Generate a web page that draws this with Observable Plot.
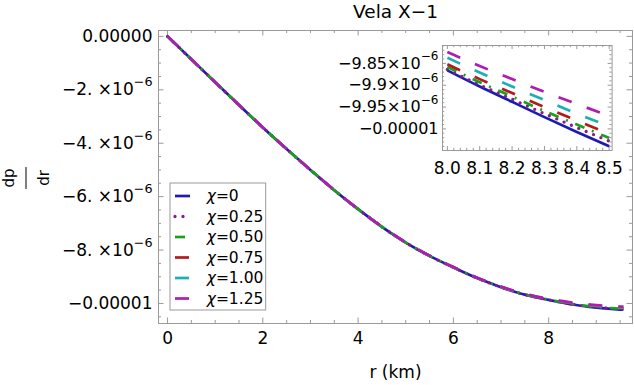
<!DOCTYPE html>
<html><head><meta charset="utf-8">
<script src="https://cdn.jsdelivr.net/npm/d3@7"></script>
<script src="https://cdn.jsdelivr.net/npm/@observablehq/plot@0.6"></script>
<style>
body{margin:0;background:#fff;}
#wrap{position:relative;width:634px;height:385px;font-family:"DejaVu Sans",sans-serif;}
#wrap svg{position:absolute;left:0;top:0;overflow:visible;}
</style></head><body><div id="wrap"></div>
<script>
// ---------------- data (dp/dr in units of 1e-6) ----------------
const title = "Vela X\u22121";
const xLabel = "r (km)";
const chiLabels = ["0", "0.25", "0.50", "0.75", "1.00", "1.25"];
const rKm = [0,0.5,1,1.5,2,2.5,3,3.5,4,4.5,5,5.5,6,6.5,7,7.5,7.75,8,8.1,8.2,8.3,8.4,8.5,8.75,9,9.25,9.5,9.57];
// chi = 0 curve
const dpdrChi0 = [0,-0.86,-1.72,-2.57,-3.41,-4.22,-5.00,-5.76,-6.47,-7.13,-7.72,-8.22,-8.65,-9.05,-9.39,-9.67,-9.775,-9.866,-9.903,-9.938,-9.973,-10.007,-10.040,-10.105,-10.155,-10.195,-10.228,-10.236];
// lift of each curve above the chi = 0 curve
const liftChi025 = [0,0,0,0,0,0,0,0,0.001,0.001,0.001,0.001,0.001,0.001,0.001,0.002,0.002,0.002,0.004,0.006,0.008,0.010,0.012,0.015,0.018,0.020,0.022,0.023];
const liftChi050 = [0,0,0,0,0,0,0.001,0.001,0.001,0.002,0.002,0.002,0.003,0.004,0.005,0.006,0.007,0.008,0.010,0.012,0.014,0.017,0.019,0.023,0.027,0.030,0.033,0.034];
const liftChi075 = [0,0,0,0,0,0.001,0.001,0.002,0.002,0.003,0.003,0.004,0.005,0.006,0.008,0.010,0.012,0.014,0.017,0.020,0.023,0.026,0.029,0.035,0.040,0.045,0.050,0.051];
const liftChi100 = [0,0,0,0,0.001,0.001,0.002,0.003,0.004,0.005,0.006,0.007,0.009,0.012,0.016,0.021,0.025,0.029,0.032,0.035,0.039,0.042,0.046,0.054,0.062,0.069,0.075,0.077];
const liftChi125 = [0,0,0,0,0.001,0.002,0.003,0.004,0.005,0.006,0.008,0.010,0.013,0.017,0.022,0.030,0.036,0.042,0.047,0.052,0.058,0.064,0.070,0.083,0.095,0.105,0.115,0.118];
const lifts = [rKm.map(() => 0), liftChi025, liftChi050, liftChi075, liftChi100, liftChi125];

const xTicksMain = [0, 2, 4, 6, 8];
const yTicksMain = [0, -2, -4, -6, -8, -10];
const xTicksInset = [8.0, 8.1, 8.2, 8.3, 8.4, 8.5];
const yTicksInset = [-9.85, -9.9, -9.95, -10.0];

// ---------------- styles ----------------
const colors = ["#1c1cb0", "#8a1a8a", "#1ca01c", "#b01c1c", "#1cb0b0", "#b01cb0"];
const dashes = [null, "0,8", "10,8,2,8", "14,16", "14,16", "14,16"];
const caps = ["butt", "round", "butt", "butt", "butt", "butt"];
const widths = [2.7, 3.3, 2.7, 2.7, 2.7, 2.7];
const FRAME = "#9a9a9a";

const rows = [];
chiLabels.forEach((chi, s) => rKm.forEach((r, i) => rows.push({chi, s, r, v: dpdrChi0[i] + lifts[s][i]})));

function lineMarks(data) {
  return chiLabels.map((chi, s) => Plot.line(data.filter(d => d.s === s), {
    x: "r", y: "v", stroke: colors[s], strokeWidth: widths[s],
    strokeDasharray: dashes[s] || undefined, strokeLinecap: caps[s], curve: "monotone-x"
  }));
}
function frameTicks(vals, axis, len, fW, fH, stroke) {
  const marks = [];
  if (axis === "x") {
    marks.push(Plot.tickX(vals, {x: d => d, stroke, insetTop: fH - len}));
    marks.push(Plot.tickX(vals, {x: d => d, stroke, insetBottom: fH - len}));
  } else {
    marks.push(Plot.tickY(vals, {y: d => d, stroke, insetRight: fW - len}));
    marks.push(Plot.tickY(vals, {y: d => d, stroke, insetLeft: fW - len}));
  }
  return marks;
}
function superscripts(svg, supSize, supDy) {
  const ns = "http://www.w3.org/2000/svg";
  svg.querySelectorAll("text").forEach(t => {
    const s = t.textContent;
    if (!s.includes("^")) return;
    const [a, b] = s.split("^");
    t.textContent = "";
    const t1 = document.createElementNS(ns, "tspan"); t1.textContent = a; t.appendChild(t1);
    const t2 = document.createElementNS(ns, "tspan"); t2.textContent = b;
    t2.setAttribute("dy", supDy); t2.setAttribute("font-size", supSize); t.appendChild(t2);
  });
}

// ---------------- main chart ----------------
const W = 634, H = 385, mL = 158, mR = 2, mT = 30, mB = 62;
const fW = W - mL - mR, fH = H - mT - mB;
const xMinor = d3.range(0, 9.76, 0.5).filter(v => v % 2 !== 0);
const yMinor = d3.range(0, -10.76, -0.5).filter(v => v % 2 !== 0);

const main = Plot.plot({
  width: W, height: H, marginLeft: mL, marginRight: mR, marginTop: mT, marginBottom: mB,
  style: {fontFamily: "DejaVu Sans, sans-serif", fontSize: "17px", background: "transparent", color: "#000"},
  x: {domain: [-0.19, 9.76]},
  y: {domain: [-10.75, 0.22]},
  marks: [
    Plot.frame({stroke: FRAME}),
    ...frameTicks(xTicksMain, "x", 5.5, fW, fH, FRAME),
    ...frameTicks(xMinor, "x", 3, fW, fH, FRAME),
    ...frameTicks(yTicksMain, "y", 5.5, fW, fH, FRAME),
    ...frameTicks(yMinor, "y", 3, fW, fH, FRAME),
    Plot.axisX(xTicksMain, {tickSize: 0, tickPadding: 8.5, label: null, tickFormat: d => String(d), fontSize: 17}),
    Plot.axisY(yTicksMain, {tickSize: 0, tickPadding: 6, label: null, fontSize: 17,
      tickFormat: d => d === 0 ? "0.00000" : d === -10 ? "\u22120.00001" : `\u2212${-d}. \u00d710^\u22126`}),
    ...lineMarks(rows),
    Plot.text([title], {text: d => d, frameAnchor: "top", dy: -18, lineAnchor: "middle", fontSize: 18.5}),
    Plot.text([xLabel], {text: d => d, frameAnchor: "bottom", dy: 48.7, lineAnchor: "middle", fontSize: 17})
  ]
});
superscripts(main, "12.75px", "-9");
document.getElementById("wrap").appendChild(main);

// y-axis label as a rotated fraction dp/dr
const ms = d3.select(main);
const yl = ms.append("g").attr("transform", "translate(26,178) rotate(-90)")
  .attr("font-family", "DejaVu Sans, sans-serif").attr("font-size", 15).attr("text-anchor", "middle");
yl.append("text").attr("x", 0).attr("y", -12.4).text("dp");
yl.append("line").attr("x1", -11).attr("x2", 11).attr("y1", 0).attr("y2", 0).attr("stroke", "#000").attr("stroke-width", 1);
yl.append("text").attr("x", 0).attr("y", 22.7).text("dr");

// legend
const lg = ms.append("g").attr("font-family", "DejaVu Sans, sans-serif").attr("font-size", 15.5)
  .attr("text-anchor", "start");
lg.append("rect").attr("x", 170).attr("y", 183).attr("width", 95.7).attr("height", 127)
  .attr("fill", "white").attr("stroke", FRAME);
chiLabels.forEach((chi, s) => {
  const y = 196 + s * 20.5;
  lg.append("line").attr("x1", 175).attr("x2", 190).attr("y1", y).attr("y2", y)
    .attr("stroke", colors[s]).attr("stroke-width", widths[s])
    .attr("stroke-dasharray", dashes[s]).attr("stroke-linecap", caps[s]);
  const t = lg.append("text").attr("x", 206.7).attr("y", y).attr("dy", "0.35em");
  t.append("tspan").attr("font-style", "italic").text("\u03c7");
  t.append("tspan").text("=" + chi);
});

// ---------------- inset ----------------
const iW = 295, iH = 140, imL = 110, imR = 15.4, imT = 5, imB = 30;
const ifW = iW - imL - imR, ifH = iH - imT - imB;
const ixMinor = d3.range(8.0, 8.5001, 0.02).filter(v => Math.abs(v * 10 - Math.round(v * 10)) > 1e-6);
const iyMinor = d3.range(-9.81, -10.05, -0.01).filter(v => Math.abs(v * 20 - Math.round(v * 20)) > 1e-6);
const insetRows = rows.filter(d => d.r >= 8.0 && d.r <= 8.5);
const inset = Plot.plot({
  width: iW, height: iH, marginLeft: imL, marginRight: imR, marginTop: imT, marginBottom: imB,
  style: {fontFamily: "DejaVu Sans, sans-serif", fontSize: "17px", background: "transparent", color: "#000"},
  x: {domain: [7.985, 8.509]},
  y: {domain: [-10.0495, -9.809]},
  marks: [
    Plot.frame({fill: "white", stroke: FRAME}),
    ...frameTicks(xTicksInset, "x", 4, ifW, ifH, FRAME),
    ...frameTicks(ixMinor, "x", 2.2, ifW, ifH, FRAME),
    ...frameTicks(yTicksInset, "y", 4, ifW, ifH, FRAME),
    ...frameTicks(iyMinor, "y", 2.2, ifW, ifH, FRAME),
    Plot.axisX(xTicksInset, {tickSize: 0, tickPadding: 11.7, label: null, tickFormat: d3.format(".1f"), fontSize: 17}),
    Plot.axisY(yTicksInset, {tickSize: 0, tickPadding: 4, label: null, fontSize: 16,
      tickFormat: d => d === -10 ? "\u22120.00001" : `\u2212${(-d).toString()}\u00d710^\u22126`}),
    ...lineMarks(insetRows)
  ]
});
superscripts(inset, "12px", "-8.5");
inset.style.left = (441.7 - imL) + "px";
inset.style.top = "40px";
document.getElementById("wrap").appendChild(inset);
</script></body></html>
